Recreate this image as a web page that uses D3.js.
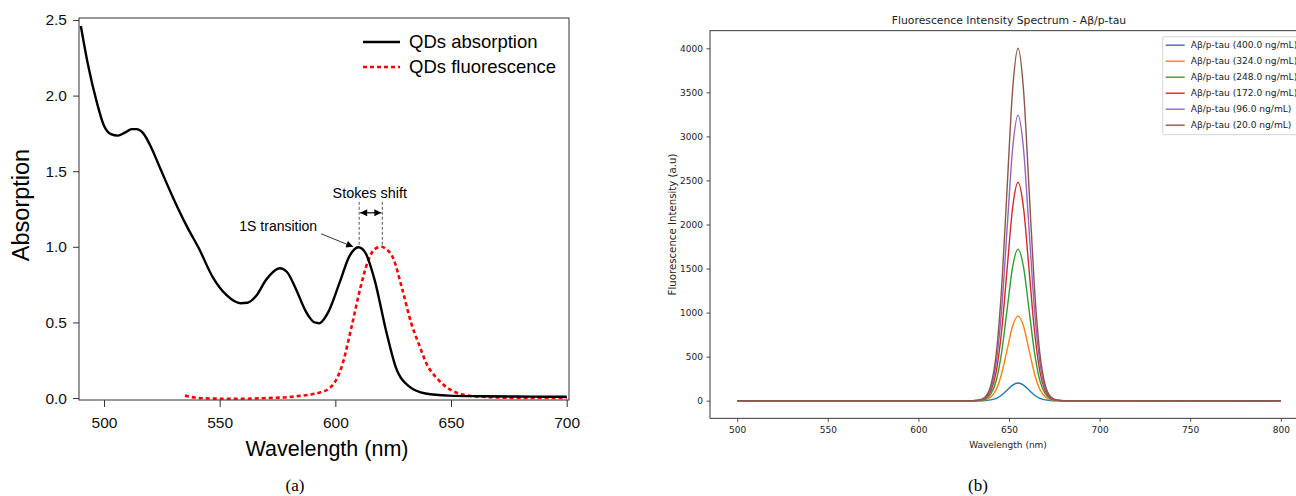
<!DOCTYPE html>
<html>
<head>
<meta charset="utf-8">
<script src="https://cdn.jsdelivr.net/npm/d3@7"></script>
<style>
  body { margin: 0; background: #fff; }
  svg { display: block; }
</style>
</head>
<body>
<script>
var width  = 1296
var height = 496

// ---- panel (a): QD absorption / fluorescence ----
var absWl  = [490, 493, 497, 500, 503, 506, 509, 512, 514, 517, 520, 524, 530, 536, 541, 547, 553, 559, 562, 566, 570, 576, 579, 583, 587, 589, 591, 593, 595, 597, 602, 606, 610, 613, 617, 622, 626, 632, 639, 649, 664, 685, 700]
var absVal = [2.46, 2.21, 1.95, 1.80, 1.745, 1.735, 1.755, 1.778, 1.778, 1.75, 1.67, 1.53, 1.32, 1.13, 0.99, 0.80, 0.68, 0.627, 0.63, 0.68, 0.78, 0.858, 0.835, 0.72, 0.58, 0.53, 0.50, 0.495, 0.52, 0.57, 0.77, 0.935, 0.997, 0.96, 0.78, 0.44, 0.21, 0.075, 0.03, 0.016, 0.012, 0.009, 0.008]
var fluWl  = [535, 538, 541, 548, 556, 564, 570, 578, 585, 590, 593, 597, 600, 603, 607, 611, 614, 617, 620, 622, 625, 629, 633, 636, 640, 644, 648, 653, 658, 664, 670, 678, 690, 700]
var fluVal = [0.016, 0.006, 0.0, -0.004, -0.005, -0.004, 0.0, 0.004, 0.015, 0.025, 0.035, 0.06, 0.11, 0.22, 0.47, 0.74, 0.90, 0.985, 1.0, 0.985, 0.925, 0.715, 0.485, 0.36, 0.21, 0.13, 0.072, 0.032, 0.015, 0.008, 0.004, 0.0, 0.0, 0.0]
var aXTicks = [500, 550, 600, 650, 700]
var aYTicks = [0, 0.5, 1.0, 1.5, 2.0, 2.5]
var aLegend = ['QDs absorption', 'QDs fluorescence']
var absPeakWl = 610.3
var fluPeakWl = 620.3

// ---- panel (b): fluorescence spectrum vs concentration ----
var specWl = [500, 630, 634, 637, 640, 643, 646, 649, 652, 655, 658, 661, 664, 667, 670, 673, 676, 680, 800]
var tau400 = [0, 0, 0, 2, 9, 27, 65, 121, 177, 200, 177, 121, 65, 27, 9, 2, 0, 0, 0]
var tau324 = [0, 0, 2, 11, 42, 130, 312, 582, 848, 960, 848, 582, 312, 130, 42, 11, 2, 0, 0]
var tau248 = [0, 0, 4, 19, 76, 232, 558, 1043, 1518, 1720, 1518, 1043, 558, 232, 76, 19, 4, 0, 0]
var tau172 = [0, 0, 5, 27, 109, 335, 805, 1505, 2190, 2480, 2190, 1505, 805, 335, 109, 27, 5, 0, 0]
var tau96  = [0, 1, 7, 36, 142, 438, 1050, 1965, 2860, 3240, 2860, 1965, 1050, 438, 142, 36, 7, 1, 0]
var tau20  = [0, 1, 9, 44, 175, 540, 1300, 2430, 3530, 4000, 3530, 2430, 1300, 540, 175, 44, 9, 1, 0]
var concLabels = ['Aβ/p-tau (400.0 ng/mL)', 'Aβ/p-tau (324.0 ng/mL)', 'Aβ/p-tau (248.0 ng/mL)', 'Aβ/p-tau (172.0 ng/mL)', 'Aβ/p-tau (96.0 ng/mL)', 'Aβ/p-tau (20.0 ng/mL)']
var bXTicks = [500, 550, 600, 650, 700, 750, 800]
var bYTicks = [0, 500, 1000, 1500, 2000, 2500, 3000, 3500, 4000]
var tab10 = ['#1f77b4', '#ff7f0e', '#2ca02c', '#d62728', '#9467bd', '#8c564b']

var svg = d3.select('body')
  .append('svg')
  .attr('width', width)
  .attr('height', height)

var defs = svg.append('defs')
defs.append('marker')
  .attr('id', 'head')
  .attr('viewBox', '0 0 10 10')
  .attr('refX', 10).attr('refY', 5)
  .attr('markerWidth', 9).attr('markerHeight', 7)
  .attr('markerUnits', 'userSpaceOnUse')
  .attr('orient', 'auto-start-reverse')
  .append('path')
  .attr('d', 'M0,0 L10,5 L0,10 Z')
  .attr('fill', '#000')

// =================== panel (a) ===================
var aBox = { left: 79, right: 569, top: 18, bottom: 400 }
var aFont = '"Liberation Sans", Arial, sans-serif'

var ax = d3.scaleLinear().domain([489.2, 701]).range([aBox.left, aBox.right])
var ay = d3.scaleLinear().domain([-0.013, 2.513]).range([aBox.bottom, aBox.top])

var gA = svg.append('g')

gA.append('rect')
  .attr('x', aBox.left).attr('y', aBox.top)
  .attr('width', aBox.right - aBox.left)
  .attr('height', aBox.bottom - aBox.top)
  .attr('fill', 'none')
  .attr('stroke', '#333')
  .attr('stroke-width', 1)

var aXAxis = gA.append('g')
  .attr('transform', 'translate(' + [0, aBox.bottom] + ')')
  .call(d3.axisBottom(ax).tickValues(aXTicks).tickSize(7).tickPadding(10).tickFormat(d3.format('d')))
var aYAxis = gA.append('g')
  .attr('transform', 'translate(' + [aBox.left, 0] + ')')
  .call(d3.axisLeft(ay).tickValues(aYTicks).tickSize(6).tickPadding(6).tickFormat(d3.format('.1f')))

;[aXAxis, aYAxis].forEach(function (g) {
  g.select('.domain').remove()
  g.selectAll('line').attr('stroke', '#333')
  g.selectAll('text')
    .attr('font-family', aFont)
    .attr('font-size', 15.5)
    .attr('fill', '#111')
})

var aLine = d3.line().x(d => ax(d[0])).y(d => ay(d[1])).curve(d3.curveMonotoneX)

gA.append('path')
  .datum(d3.zip(fluWl, fluVal))
  .attr('d', aLine)
  .attr('fill', 'none')
  .attr('stroke', '#ff0000')
  .attr('stroke-width', 2.6)
  .attr('stroke-dasharray', '4,3')

gA.append('path')
  .datum(d3.zip(absWl, absVal))
  .attr('d', aLine)
  .attr('fill', 'none')
  .attr('stroke', '#000')
  .attr('stroke-width', 2.4)
  .attr('stroke-linejoin', 'round')

// legend
var aLeg = gA.append('g').attr('transform', 'translate(363,42)')
aLegend.forEach(function (name, i) {
  aLeg.append('line')
    .attr('x1', 0).attr('x2', 37)
    .attr('y1', i * 25).attr('y2', i * 25)
    .attr('stroke', i ? '#ff0000' : '#000')
    .attr('stroke-width', 2.4)
    .attr('stroke-dasharray', i ? '4,3' : null)
  aLeg.append('text')
    .attr('x', 46).attr('y', i * 25)
    .attr('dy', '0.35em')
    .attr('font-family', aFont)
    .attr('font-size', 18.5)
    .attr('fill', '#000')
    .text(name)
})

// stokes shift annotation
var px1 = ax(absPeakWl), px2 = ax(fluPeakWl), py = ay(1.0)
;[px1, px2].forEach(function (x) {
  gA.append('line')
    .attr('x1', x).attr('x2', x)
    .attr('y1', py - 45).attr('y2', py - 1)
    .attr('stroke', '#444')
    .attr('stroke-width', 0.9)
    .attr('stroke-dasharray', '3,2')
})
gA.append('line')
  .attr('x1', px1 + 1).attr('x2', px2 - 1)
  .attr('y1', py - 34).attr('y2', py - 34)
  .attr('stroke', '#000')
  .attr('stroke-width', 1.2)
  .attr('marker-start', 'url(#head)')
  .attr('marker-end', 'url(#head)')
gA.append('text')
  .attr('x', (px1 + px2) / 2 - 1).attr('y', py - 49)
  .attr('text-anchor', 'middle')
  .attr('font-family', aFont)
  .attr('font-size', 14.4)
  .text('Stokes shift')

// 1S transition annotation
gA.append('line')
  .attr('x1', px1 - 38).attr('y1', py - 13)
  .attr('x2', px1 - 6).attr('y2', py)
  .attr('stroke', '#333')
  .attr('stroke-width', 1)
  .attr('marker-end', 'url(#head)')
gA.append('text')
  .attr('x', px1 - 42).attr('y', py - 16)
  .attr('text-anchor', 'end')
  .attr('font-family', aFont)
  .attr('font-size', 14)
  .text('1S transition')

gA.append('text')
  .attr('x', 327).attr('y', 456)
  .attr('text-anchor', 'middle')
  .attr('font-family', aFont)
  .attr('font-size', 21.5)
  .text('Wavelength (nm)')

gA.append('text')
  .attr('transform', 'translate(29,205) rotate(-90)')
  .attr('text-anchor', 'middle')
  .attr('font-family', aFont)
  .attr('font-size', 23.5)
  .text('Absorption')

// =================== panel (b) ===================
var bBox = { left: 710, right: 1308, top: 30.7, bottom: 418.3 }
var bFont = '"DejaVu Sans", sans-serif'

var bx = d3.scaleLinear().domain([485, 815]).range([bBox.left, bBox.right])
var by = d3.scaleLinear().domain([-200, 4200]).range([bBox.bottom, bBox.top])

var gB = svg.append('g')

var bXAxis = gB.append('g')
  .attr('transform', 'translate(' + [0, bBox.bottom] + ')')
  .call(d3.axisBottom(bx).tickValues(bXTicks).tickSize(3.5).tickPadding(5).tickFormat(d3.format('d')))
var bYAxis = gB.append('g')
  .attr('transform', 'translate(' + [bBox.left, 0] + ')')
  .call(d3.axisLeft(by).tickValues(bYTicks).tickSize(3.5).tickPadding(3.5).tickFormat(d3.format('d')))

;[bXAxis, bYAxis].forEach(function (g) {
  g.select('.domain').remove()
  g.selectAll('line').attr('stroke', '#222').attr('stroke-width', 0.8)
  g.selectAll('text')
    .attr('font-family', bFont)
    .attr('font-size', 9)
    .attr('fill', '#222')
})

var bLine = d3.line().x(d => bx(d[0])).y(d => by(d[1])).curve(d3.curveMonotoneX)
var series = [tau400, tau324, tau248, tau172, tau96, tau20]

series.forEach(function (vals, i) {
  gB.append('path')
    .datum(d3.zip(specWl, vals))
    .attr('d', bLine)
    .attr('fill', 'none')
    .attr('stroke', tab10[i])
    .attr('stroke-width', 1.4)
})

gB.append('rect')
  .attr('x', bBox.left).attr('y', bBox.top)
  .attr('width', bBox.right - bBox.left)
  .attr('height', bBox.bottom - bBox.top)
  .attr('fill', 'none')
  .attr('stroke', '#222')
  .attr('stroke-width', 0.9)

// legend
var bLeg = gB.append('g').attr('transform', 'translate(1162.7,36.7)')
bLeg.append('rect')
  .attr('width', 160).attr('height', 98)
  .attr('rx', 2)
  .attr('fill', '#fff').attr('fill-opacity', 0.8)
  .attr('stroke', '#d0d0d0').attr('stroke-width', 0.9)
concLabels.forEach(function (name, i) {
  var yy = 8.5 + i * 16
  bLeg.append('line')
    .attr('x1', 3).attr('x2', 22)
    .attr('y1', yy).attr('y2', yy)
    .attr('stroke', tab10[i])
    .attr('stroke-width', 1.4)
  bLeg.append('text')
    .attr('x', 28).attr('y', yy)
    .attr('dy', '0.36em')
    .attr('font-family', bFont)
    .attr('font-size', 9.1)
    .attr('fill', '#222')
    .text(name)
})

gB.append('text')
  .attr('x', (bBox.left + bBox.right) / 2).attr('y', 24)
  .attr('text-anchor', 'middle')
  .attr('font-family', bFont)
  .attr('font-size', 10.8)
  .attr('fill', '#222')
  .text('Fluorescence Intensity Spectrum - Aβ/p-tau')

gB.append('text')
  .attr('x', 1008).attr('y', 448)
  .attr('text-anchor', 'middle')
  .attr('font-family', bFont)
  .attr('font-size', 9)
  .attr('fill', '#222')
  .text('Wavelength (nm)')

gB.append('text')
  .attr('transform', 'translate(675.5,' + (bBox.top + bBox.bottom) / 2 + ') rotate(-90)')
  .attr('text-anchor', 'middle')
  .attr('font-family', bFont)
  .attr('font-size', 10.2)
  .attr('fill', '#222')
  .text('Fluorescence Intensity (a.u)')

// panel captions
var serif = '"Liberation Serif", "Times New Roman", serif'
svg.append('text')
  .attr('x', 295).attr('y', 491)
  .attr('text-anchor', 'middle')
  .attr('font-family', serif).attr('font-size', 17)
  .text('(a)')
svg.append('text')
  .attr('x', 978).attr('y', 491)
  .attr('text-anchor', 'middle')
  .attr('font-family', serif).attr('font-size', 17)
  .text('(b)')
</script>
</body>
</html>
